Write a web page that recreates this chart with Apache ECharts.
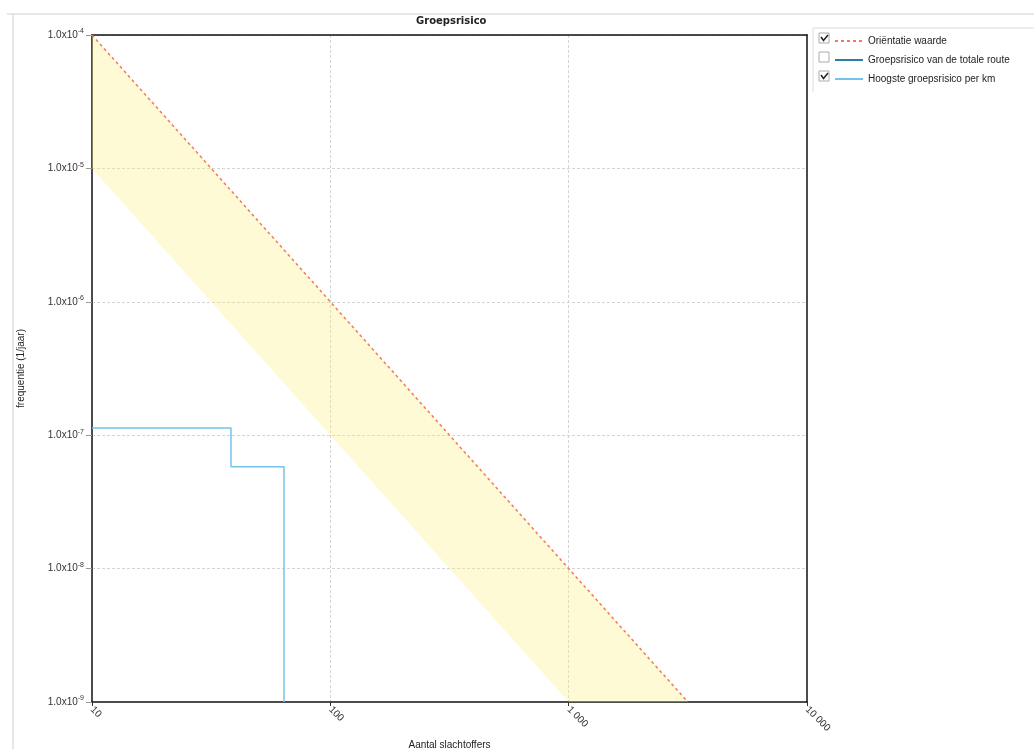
<!DOCTYPE html>
<html>
<head>
<meta charset="utf-8">
<script src="https://cdn.jsdelivr.net/npm/echarts@6/dist/echarts.min.js"></script>
<style>html,body{margin:0;padding:0;background:#fff;}#c{width:1034px;height:749px;}</style>
</head>
<body>
<div id="c"></div>
<script>
// ---- data ----
var seriesNames = ['Oriëntatie waarde', 'Groepsrisico van de totale route', 'Hoogste groepsrisico per km'];
var orientatie = [[10, 1e-4], [3162.28, 1e-9]];
var bandLower = [[10, 1e-5], [1000, 1e-9]];
var totaleRoute = [];
var hoogstePerKm = [[10, 1.13e-7], [38.3, 1.13e-7], [38.3, 5.8e-8], [63.9, 5.8e-8], [63.9, 1e-9]];
var xTickLabels = {10: '10', 100: '100', 1000: '1 000', 10000: '10 000'};
var legendChecked = [true, false, true];

var chart = echarts.init(document.getElementById('c'));

var font = 'Liberation Sans, Arial, sans-serif';

function checkbox(i, checked) {
  var y = 33 + i * 19;
  var els = [{
    type: 'rect', shape: {x: 819, y: y, width: 10, height: 10},
    style: {fill: '#fff', stroke: '#aaa', lineWidth: 1}
  }];
  if (checked) {
    els.push({
      type: 'polyline', shape: {points: [[821, y + 4], [823.5, y + 7.5], [828, y + 2]]},
      style: {fill: null, stroke: '#222', lineWidth: 1.5}
    });
  }
  return els;
}

var graphics = [
  {type: 'line', shape: {x1: 7, y1: 14, x2: 1034, y2: 14}, style: {stroke: '#cfcfcf', lineWidth: 1}},
  {type: 'line', shape: {x1: 13, y1: 14, x2: 13, y2: 749}, style: {stroke: '#cfcfcf', lineWidth: 1}},
  {type: 'line', shape: {x1: 813, y1: 28, x2: 1034, y2: 28}, style: {stroke: '#dcdcdc', lineWidth: 1}},
  {type: 'line', shape: {x1: 813, y1: 28, x2: 813, y2: 92}, style: {stroke: '#dcdcdc', lineWidth: 1}}
];
for (var i = 0; i < 3; i++) graphics = graphics.concat(checkbox(i, legendChecked[i]));

var frameAxis = {
  type: 'log', logBase: 10, silent: true,
  axisLine: {show: true, lineStyle: {color: '#111', width: 1.5}},
  axisTick: {show: false}, axisLabel: {show: false}, splitLine: {show: false}, minorTick: {show: false}
};

var option = {
  animation: false,
  backgroundColor: '#fff',
  title: {
    text: 'Groepsrisico', left: 411, top: 11,
    textStyle: {fontFamily: 'DejaVu Sans, Verdana, sans-serif', fontSize: 10, fontWeight: 'bold', color: '#222'}
  },
  legend: {
    data: seriesNames, orient: 'vertical', left: 829, top: 31,
    itemWidth: 28, itemHeight: 10, itemGap: 9, itemStyle: {opacity: 0},
    textStyle: {fontFamily: font, fontSize: 10, color: '#222'},
    selectedMode: false
  },
  graphic: graphics,
  grid: {left: 92, right: 227, top: 35, bottom: 47, outerBoundsMode: 'none', show: false},
  xAxis: [{
    type: 'log', logBase: 10, min: 10, max: 10000, position: 'bottom',
    name: 'Aantal slachtoffers', nameLocation: 'middle', nameGap: 36,
    nameTextStyle: {fontFamily: font, fontSize: 10, color: '#222'},
    axisLine: {lineStyle: {color: '#111', width: 1.5}},
    axisTick: {show: true, length: 4, lineStyle: {color: '#333'}},
    axisLabel: {
      rotate: -45, margin: 6, fontFamily: font, fontSize: 10, color: '#333',
      formatter: function (v) { return xTickLabels[Math.round(v)] || ''; }
    },
    splitLine: {show: true, showMinLine: false, showMaxLine: false, lineStyle: {color: '#d4d4d4', type: [3, 2], width: 1}},
    minorTick: {show: false}
  }, Object.assign({}, frameAxis, {min: 10, max: 10000, position: 'top'})],
  yAxis: [{
    type: 'log', logBase: 10, min: 1e-9, max: 1e-4, position: 'left',
    name: 'frequentie (1/jaar)', nameLocation: 'middle', nameGap: 66, nameRotate: 90,
    nameTextStyle: {fontFamily: font, fontSize: 10, color: '#222'},
    axisLine: {lineStyle: {color: '#111', width: 1.5}},
    axisTick: {show: true, length: 6, lineStyle: {color: '#999'}},
    axisLabel: {
      margin: 8, fontFamily: font, fontSize: 10, color: '#333', lineHeight: 14,
      formatter: function (v) { return '1.0x10{s|' + Math.round(Math.log10(v)) + '}'; },
      rich: {s: {fontFamily: font, fontSize: 7, lineHeight: 8, verticalAlign: 'top', color: '#333'}}
    },
    splitLine: {show: true, showMinLine: false, showMaxLine: false, lineStyle: {color: '#d4d4d4', type: [3, 2], width: 1}}
  }, Object.assign({}, frameAxis, {min: 1e-9, max: 1e-4, position: 'right'})],
  series: [
    {
      type: 'custom', name: 'band', z: 1, silent: true,
      data: [0],
      renderItem: function (params, api) {
        var pts = [];
        orientatie.forEach(function (p) { pts.push(api.coord(p)); });
        bandLower.slice().reverse().forEach(function (p) { pts.push(api.coord(p)); });
        return {type: 'polygon', shape: {points: pts}, style: {fill: 'rgba(255,238,120,0.30)', stroke: null}};
      }
    },
    {
      type: 'line', name: seriesNames[0], data: orientatie, symbol: 'none', z: 3,
      lineStyle: {color: '#f27a55', width: 1.5, type: [3, 3]}, itemStyle: {color: '#f27a55'}
    },
    {
      type: 'line', name: seriesNames[1], data: totaleRoute, symbol: 'none', z: 3,
      lineStyle: {color: '#2a7fa3', width: 2}, itemStyle: {color: '#2a7fa3'}
    },
    {
      type: 'line', name: seriesNames[2], data: hoogstePerKm, symbol: 'none', z: 4,
      lineStyle: {color: '#74c3ec', width: 1.5}, itemStyle: {color: '#74c3ec'}
    }
  ]
};
chart.setOption(option);
</script>
</body>
</html>
